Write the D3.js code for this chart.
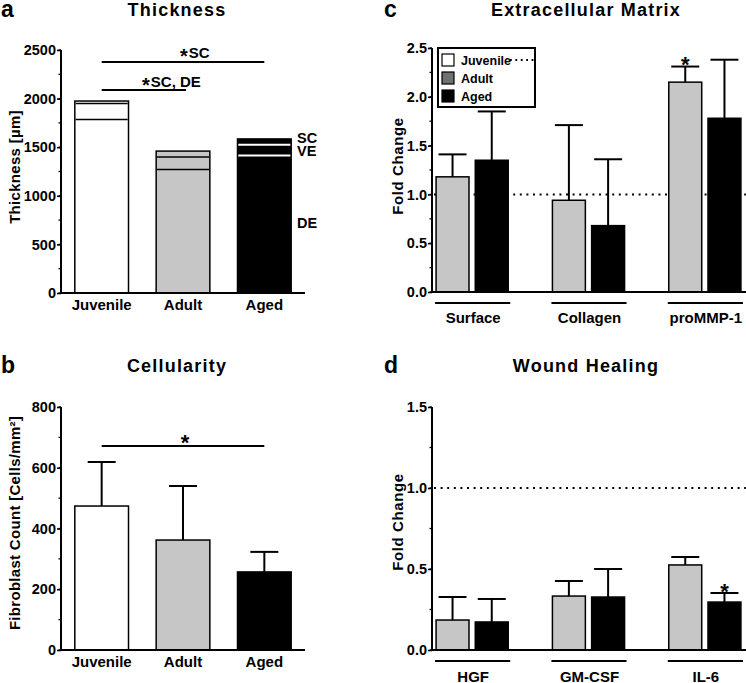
<!DOCTYPE html>
<html>
<head>
<meta charset="utf-8">
<script src="https://cdn.jsdelivr.net/npm/d3@7"></script>
<style>
  html, body { margin: 0; padding: 0; background: #fff; }
  svg { display: block; }
  text { font-family: "Liberation Sans", Arial, Helvetica, sans-serif; font-weight: bold; fill: #000; }
</style>
</head>
<body>
<svg id="chart" width="746" height="683"></svg>
<script>
// ---------------- DATA ----------------
const groups = ["Juvenile", "Adult", "Aged"];
const groupFills = ["#ffffff", "#c6c6c6", "#000000"];
// Panel a: thickness layers (µm)
const thicknessDE = [1785, 1270, 1415];
const thicknessVE = [165, 130, 110];
const thicknessSC = [25, 60, 60];
const thicknessTicks = [0, 500, 1000, 1500, 2000, 2500];
const layerLabels = ["SC", "VE", "DE"];
// Panel b: cellularity
const cellMean = [474, 362, 257];
const cellSD = [145, 178, 66];
const cellTicks = [0, 200, 400, 600, 800];
// Panel c: extracellular matrix fold change
const ecmCategories = ["Surface", "Collagen", "proMMP-1"];
const ecmAdult = [1.18, 0.94, 2.15];
const ecmAdultErr = [0.23, 0.77, 0.16];
const ecmAged = [1.35, 0.68, 1.78];
const ecmAgedErr = [0.50, 0.68, 0.60];
const ecmTicks = [0, 0.5, 1.0, 1.5, 2.0, 2.5];
// Panel d: wound healing fold change
const woundCategories = ["HGF", "GM-CSF", "IL-6"];
const woundAdult = [0.185, 0.333, 0.525];
const woundAdultErr = [0.142, 0.093, 0.049];
const woundAged = [0.173, 0.327, 0.296];
const woundAgedErr = [0.142, 0.173, 0.056];
const woundTicks = [0, 0.5, 1.0, 1.5];
const legendItems = ["Juvenile", "Adult", "Aged"];
const legendFills = ["#ffffff", "#707070", "#000000"];
const series = ["Adult", "Aged"];
const seriesFills = ["#c6c6c6", "#000000"];

// ---------------- DRAW ----------------
const svg = d3.select("#chart");

function yAxis(g, y, ticks, fmt, minorStep) {
  const ax = g.append("g").attr("transform", `translate(${y.x0},0)`);
  const dom = y.domain();
  const minor = d3.range(dom[0], dom[1] + 1e-9, minorStep);
  ax.selectAll("line.minor").data(minor).join("line")
    .attr("x1", -2.5).attr("x2", 0)
    .attr("y1", d => y(d)).attr("y2", d => y(d))
    .attr("stroke", "#000").attr("stroke-width", 1.3);
  const a = d3.axisLeft(y).tickValues(ticks).tickFormat(fmt).tickSize(4).tickPadding(1);
  ax.call(a);
  ax.select(".domain").remove();
  ax.selectAll(".tick line").attr("stroke", "#000").attr("stroke-width", 1.6);
  ax.selectAll(".tick text").style("font-size", "14.5px").attr("fill", "#000")
    .style("font-family", "'Liberation Sans', Arial, sans-serif").style("font-weight", "bold");
  ax.append("line").attr("x1", 0).attr("x2", 0)
    .attr("y1", y.range()[0] + 1).attr("y2", y.range()[1])
    .attr("stroke", "#000").attr("stroke-width", 2);
}

function title(x, y, t) {
  svg.append("text").attr("x", x).attr("y", y).attr("text-anchor", "middle")
    .style("font-size", "18px").style("letter-spacing", "1.2px").text(t);
}
function letter(x, y, t) {
  svg.append("text").attr("x", x).attr("y", y).style("font-size", "23px").text(t);
}
function ylabel(x, y, t, size, ls) {
  svg.append("text").attr("transform", `translate(${x},${y}) rotate(-90)`)
    .attr("text-anchor", "middle").style("font-size", size + "px")
    .style("letter-spacing", ls + "px").text(t);
}
function errorBar(g, cx, yTop, yErr, cap) {
  g.append("line").attr("x1", cx).attr("x2", cx).attr("y1", yTop).attr("y2", yErr)
    .attr("stroke", "#000").attr("stroke-width", 2);
  g.append("line").attr("x1", cx - cap / 2).attr("x2", cx + cap / 2).attr("y1", yErr).attr("y2", yErr)
    .attr("stroke", "#000").attr("stroke-width", 2);
}
function star(x, yCenter, size) {
  svg.append("text").attr("x", x).attr("y", yCenter + size * 0.56)
    .attr("text-anchor", "middle").style("font-size", size + "px").text("*");
}

// ===== Panel a: Thickness =====
{
  const g = svg.append("g");
  const x = d3.scaleBand().domain(groups).range([61, 305]).paddingInner(0.34).paddingOuter(0.17);
  const y = d3.scaleLinear().domain([0, 2500]).range([293, 50]);
  y.x0 = 61;
  const bw = x.bandwidth();
  groups.forEach((grp, i) => {
    const total = thicknessDE[i] + thicknessVE[i] + thicknessSC[i];
    g.append("rect").attr("x", x(grp)).attr("y", y(total)).attr("width", bw)
      .attr("height", y(0) - y(total)).attr("fill", groupFills[i])
      .attr("stroke", "#000").attr("stroke-width", 1.5);
    const bounds = [thicknessDE[i], thicknessDE[i] + thicknessVE[i]];
    bounds.forEach(b => {
      g.append("line").attr("x1", x(grp) + 0.8).attr("x2", x(grp) + bw - 0.8)
        .attr("y1", y(b)).attr("y2", y(b))
        .attr("stroke", i === 2 ? "#fff" : "#000").attr("stroke-width", i === 2 ? 2 : 1.5);
    });
  });
  yAxis(g, y, thicknessTicks, d3.format("d"), 250);
  g.append("line").attr("x1", 60).attr("x2", 305).attr("y1", y(0)).attr("y2", y(0))
    .attr("stroke", "#000").attr("stroke-width", 2.2);
  groups.forEach(grp => {
    g.append("text").attr("x", x(grp) + bw / 2).attr("y", 310).attr("text-anchor", "middle")
      .style("font-size", "15px").text(grp);
  });
  // layer labels beside aged bar
  const layerY = [143, 156, 228];
  layerLabels.forEach((l, k) => {
    g.append("text").attr("x", 297).attr("y", layerY[k]).style("font-size", "14.5px").text(l);
  });
  // significance
  const cx = grp => x(grp) + bw / 2;
  g.append("line").attr("x1", cx("Juvenile")).attr("x2", cx("Aged")).attr("y1", 62).attr("y2", 62)
    .attr("stroke", "#000").attr("stroke-width", 2.2);
  g.append("line").attr("x1", cx("Juvenile")).attr("x2", cx("Adult") + 3).attr("y1", 90).attr("y2", 90)
    .attr("stroke", "#000").attr("stroke-width", 2.2);
  const t1 = g.append("text").attr("x", 180).attr("y", 58).style("font-size", "15px");
  t1.append("tspan").style("font-size", "20px").attr("dy", 5).text("*");
  t1.append("tspan").attr("dy", -5).attr("dx", 1).text("SC");
  const t2 = g.append("text").attr("x", 142).attr("y", 87).style("font-size", "15px");
  t2.append("tspan").style("font-size", "20px").attr("dy", 5).text("*");
  t2.append("tspan").attr("dy", -5).attr("dx", 1).text("SC, DE");
  title(177, 16, "Thickness");
  letter(1, 17, "a");
  ylabel(20, 167, "Thickness  [µm]", 15, 0.3);
}

// ===== Panel b: Cellularity =====
{
  const g = svg.append("g");
  const x = d3.scaleBand().domain(groups).range([61, 305]).paddingInner(0.34).paddingOuter(0.17);
  const y = d3.scaleLinear().domain([0, 800]).range([650, 407]);
  y.x0 = 61;
  const bw = x.bandwidth();
  groups.forEach((grp, i) => {
    errorBar(g, x(grp) + bw / 2, y(cellMean[i]), y(cellMean[i] + cellSD[i]), 28);
    g.append("rect").attr("x", x(grp)).attr("y", y(cellMean[i])).attr("width", bw)
      .attr("height", y(0) - y(cellMean[i])).attr("fill", groupFills[i])
      .attr("stroke", "#000").attr("stroke-width", 1.5);
  });
  yAxis(g, y, cellTicks, d3.format("d"), 100);
  g.append("line").attr("x1", 60).attr("x2", 305).attr("y1", y(0)).attr("y2", y(0))
    .attr("stroke", "#000").attr("stroke-width", 2.2);
  groups.forEach(grp => {
    g.append("text").attr("x", x(grp) + bw / 2).attr("y", 667).attr("text-anchor", "middle")
      .style("font-size", "15px").text(grp);
  });
  const cx = grp => x(grp) + bw / 2;
  g.append("line").attr("x1", cx("Juvenile")).attr("x2", cx("Aged")).attr("y1", 446).attr("y2", 446)
    .attr("stroke", "#000").attr("stroke-width", 2.2);
  star(cx("Adult") + 2, 438, 22);
  title(177, 372, "Cellularity");
  letter(1, 373, "b");
  ylabel(20, 523, "Fibroblast Count [Cells/mm²]", 15, 0.3);
}

// ===== grouped fold-change panels =====
function foldPanel(cats, adult, adultErr, aged, agedErr, yDomainMax, yTop, yBottom, ticks, labelY, stars) {
  const g = svg.append("g");
  const x = d3.scaleBand().domain(cats).range([432, 745]).paddingInner(0.38).paddingOuter(0.035);
  const xs = d3.scaleBand().domain(series).range([0, x.bandwidth()]).paddingInner(0.16).paddingOuter(0);
  const y = d3.scaleLinear().domain([0, yDomainMax]).range([yBottom, yTop]);
  y.x0 = 432;
  const vals = [adult, aged], errs = [adultErr, agedErr];
  // dotted reference line at 1.0 (Juvenile)
  g.append("line").attr("x1", 434).attr("x2", 746).attr("y1", y(1)).attr("y2", y(1))
    .attr("stroke", "#000").attr("stroke-width", 2).attr("stroke-dasharray", "2,4.6");
  cats.forEach((c, i) => {
    series.forEach((s, k) => {
      const bx = x(c) + xs(s);
      const v = vals[k][i];
      errorBar(g, bx + xs.bandwidth() / 2, y(v), y(v + errs[k][i]), 28);
      g.append("rect").attr("x", bx).attr("y", y(v)).attr("width", xs.bandwidth())
        .attr("height", y(0) - y(v)).attr("fill", seriesFills[k])
        .attr("stroke", "#000").attr("stroke-width", 1.5);
    });
    g.append("line").attr("x1", x(c) - 1).attr("x2", x(c) + x.bandwidth() + 2)
      .attr("y1", y(0) + 11).attr("y2", y(0) + 11).attr("stroke", "#000").attr("stroke-width", 2.2);
    g.append("text").attr("x", x(c) + x.bandwidth() / 2 + 1).attr("y", labelY).attr("text-anchor", "middle")
      .style("font-size", "15px").text(c);
  });
  yAxis(g, y, ticks, d3.format(".1f"), 0.25);
  g.append("line").attr("x1", 431).attr("x2", 746).attr("y1", y(0)).attr("y2", y(0))
    .attr("stroke", "#000").attr("stroke-width", 2.2);
  stars.forEach(st => {
    const c = cats[st.cat];
    const bx = x(c) + xs(series[st.series]) + xs.bandwidth() / 2;
    star(bx, st.y, 22);
  });
  return g;
}

// ===== Panel c =====
foldPanel(ecmCategories, ecmAdult, ecmAdultErr, ecmAged, ecmAgedErr, 2.5, 48, 292, ecmTicks, 323,
  [{cat: 2, series: 0, y: 60}]);
title(586, 16, "Extracellular Matrix");
letter(384, 17, "c");
ylabel(403, 166, "Fold Change", 15, 0.6);
// legend
{
  const lg = svg.append("g");
  lg.append("rect").attr("x", 438).attr("y", 48).attr("width", 97).attr("height", 59)
    .attr("fill", "#fff").attr("stroke", "#000").attr("stroke-width", 2);
  legendItems.forEach((l, i) => {
    const cy = 60 + i * 18;
    lg.append("rect").attr("x", 442).attr("y", cy - 6).attr("width", 12).attr("height", 12)
      .attr("fill", legendFills[i]).attr("stroke", "#000").attr("stroke-width", 1.2);
    lg.append("text").attr("x", 461).attr("y", cy + 5).style("font-size", "12.5px").text(l);
  });
  lg.append("line").attr("x1", 510).attr("x2", 534).attr("y1", 60).attr("y2", 60)
    .attr("stroke", "#000").attr("stroke-width", 1.8).attr("stroke-dasharray", "1.8,3.6");
}

// ===== Panel d =====
foldPanel(woundCategories, woundAdult, woundAdultErr, woundAged, woundAgedErr, 1.5, 407, 650, woundTicks, 682,
  [{cat: 2, series: 1, y: 587}]);
title(586, 372, "Wound Healing");
letter(384, 373, "d");
ylabel(403, 522, "Fold Change", 15, 0.6);
</script>
</body>
</html>
